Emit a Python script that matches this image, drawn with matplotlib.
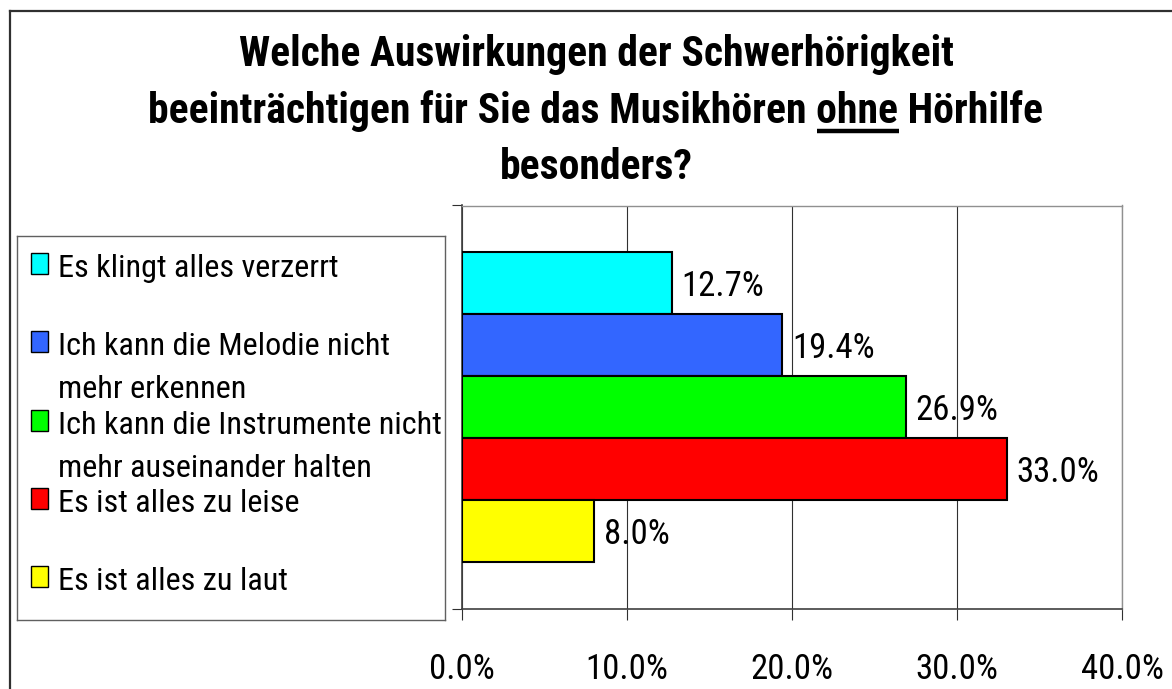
import matplotlib.pyplot as plt
from matplotlib.patches import Rectangle
from matplotlib.lines import Line2D
from matplotlib.ticker import FuncFormatter

# Daten
labels = ["Es klingt alles verzerrt",
          "Ich kann die Melodie nicht\nmehr erkennen",
          "Ich kann die Instrumente nicht\nmehr auseinander halten",
          "Es ist alles zu leise",
          "Es ist alles zu laut"]
values = [12.7, 19.4, 26.9, 33.0, 8.0]
colors = ["#00FFFF", "#3366FF", "#00FF00", "#FF0000", "#FFFF00"]
xticks = [0, 10, 20, 30, 40]

title_lines = ["Welche Auswirkungen der Schwerhörigkeit",
               "beeinträchtigen für Sie das Musikhören ohne Hörhilfe",
               "besonders?"]
underlined = "ohne"

W, H = 1172, 689
FONT = ["Roboto Condensed", "Fira Sans Condensed", "DejaVu Sans"]
plt.rcParams['font.family'] = FONT
FS = 25      # Achse und Werte
LFS = 23.2   # Legende
TFS = 30     # Titel

fig = plt.figure(figsize=(W / 100, H / 100), dpi=100)

# Rahmen (nur oben und links sichtbar)
fig.add_artist(Line2D([10 / W, 10 / W], [0, 1 - 10.5 / H], transform=fig.transFigure,
                      color="#303030", lw=1.6))
fig.add_artist(Line2D([10 / W, 1], [1 - 10.5 / H, 1 - 10.5 / H], transform=fig.transFigure,
                      color="#303030", lw=1.6))

# Diagramm
ax = fig.add_axes([462 / W, 1 - 608.5 / H, 660 / W, 403 / H])
pos = list(range(len(values)))
ax.barh(pos, values, height=1.0, color=colors, edgecolor="black", linewidth=1.5, zorder=3)
ax.set_xlim(0, 40)
ax.set_ylim(2 + 3.24, 2 - 3.24)
ax.set_xticks(xticks)
ax.xaxis.set_major_formatter(FuncFormatter(lambda v, p: f"{v:.1f}%"))
ax.set_yticks([2 + 3.24, 2 - 3.24])
ax.set_yticklabels([])
ax.tick_params(axis="x", direction="out", length=8, width=0.8, color="#303030",
               labelsize=FS, pad=24)
ax.tick_params(axis="y", direction="out", length=7, width=0.8, color="#303030")
ax.grid(axis="x", color="#303030", linewidth=0.8, zorder=0)
for s in ["left", "bottom"]:
    ax.spines[s].set_color("#404040")
    ax.spines[s].set_linewidth(1.2)
for s in ["top", "right"]:
    ax.spines[s].set_color("#909090")
    ax.spines[s].set_linewidth(1.0)

for p, v in zip(pos, values):
    ax.annotate(f"{v:.1f}%", xy=(v, p), xytext=(10, -13), textcoords="offset pixels",
                fontsize=FS, va="baseline", ha="left", zorder=4)

# Legende
lax = fig.add_axes([17 / W, 1 - 620 / H, 428 / W, 384 / H])
lax.set_xlim(0, 428)
lax.set_ylim(384, 0)
lax.set_xticks([])
lax.set_yticks([])
for s in lax.spines.values():
    s.set_color("#606060")
    s.set_linewidth(1.0)
for i, (lab, c) in enumerate(zip(labels, colors)):
    base = 41 + i * 78.3
    lax.add_patch(Rectangle((14, base - 24), 17, 21, facecolor=c, edgecolor="black", lw=1.0))
    for j, line in enumerate(lab.split("\n")):
        lax.text(41, base + j * 43, line, fontsize=LFS, va="baseline", ha="left")

# Titel
cx = 596 / W
baselines = [66, 123, 179]
for line, b in zip(title_lines, baselines):
    fig.text(cx, 1 - b / H, line, fontsize=TFS, fontweight="bold",
             ha="center", va="baseline")

# "ohne" unterstreichen
line2 = title_lines[1]
fig.canvas.draw()
r = fig.canvas.get_renderer()
full = fig.text(0, 0, line2, fontsize=TFS, fontweight="bold")
head = line2[:line2.index(underlined) + len(underlined)]
t_head = fig.text(0, 0, head, fontsize=TFS, fontweight="bold")
t_word = fig.text(0, 0, underlined, fontsize=TFS, fontweight="bold")
w_full = full.get_window_extent(r).width
w_head = t_head.get_window_extent(r).width
w_word = t_word.get_window_extent(r).width
for t in (full, t_head, t_word):
    t.remove()
x1 = cx * W - w_full / 2 + w_head
x0 = x1 - w_word
uy = 1 - 130.5 / H
fig.add_artist(Line2D([x0 / W, x1 / W], [uy, uy], transform=fig.transFigure,
                      color="black", lw=3.2, solid_capstyle="butt"))

fig.savefig("out.png", dpi=100)
